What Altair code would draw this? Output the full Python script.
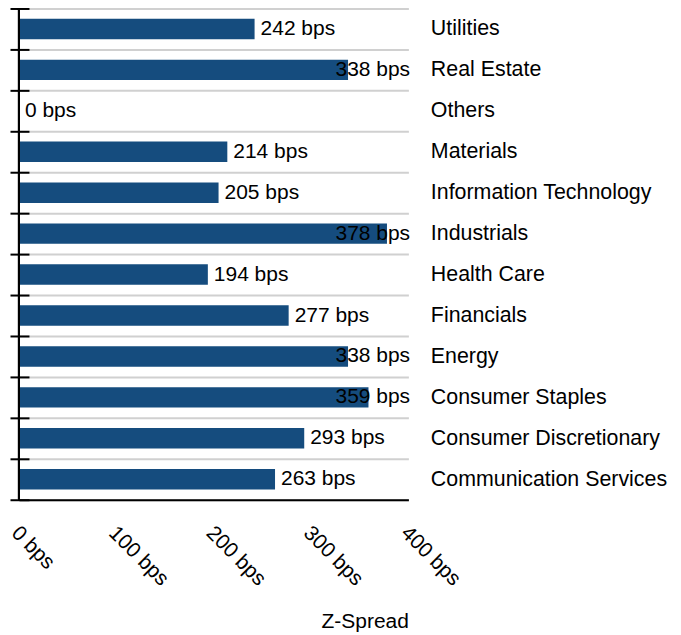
import altair as alt
import pandas as pd

sectors = ["Utilities", "Real Estate", "Others", "Materials", "Information Technology",
           "Industrials", "Health Care", "Financials", "Energy", "Consumer Staples",
           "Consumer Discretionary", "Communication Services"]
spreads = [242, 338, 0, 214, 205, 378, 194, 277, 338, 359, 293, 263]
x_ticks = [0, 100, 200, 300, 400]

df = pd.DataFrame({"sector": sectors, "spread": spreads})
FONT = "Liberation Sans"
BAR = "#154c7e"

y_scale = alt.Scale(domain=sectors, paddingInner=0, paddingOuter=0)
x_scale = alt.Scale(domain=[0, 400], nice=False)

x_axis = alt.Axis(values=x_ticks, labelExpr="datum.value + ' bps'", labelAngle=45,
                  labelAlign="left", labelBaseline="top", labelOffset=3,
                  labelFontSize=21, labelFont=FONT, labelColor="black",
                  ticks=False, tickSize=0,
                  grid=False, domainColor="black", domainWidth=2, labelPadding=22,
                  title="Z-Spread", titleAnchor="end", titleFont=FONT, titleFontSize=21,
                  titleFontWeight="normal", titleColor="black", titlePadding=21)

base = alt.Chart(df)

bars = base.mark_bar(color=BAR, height={"band": 0.5}).encode(
    x=alt.X("spread:Q", scale=x_scale, axis=x_axis, title="Z-Spread"),
    y=alt.Y("sector:N", scale=y_scale, sort=sectors,
            axis=alt.Axis(orient="right", ticks=False, tickSize=0, domain=False,
                          labelPadding=22, labelFontSize=21.4, labelFont=FONT,
                          labelColor="black", labelLimit=400, grid=True,
                          gridColor="#d0d0d0", gridWidth=2, tickBand="extent",
                          title=None)),
)

labels = base.transform_calculate(
    lx="min(datum.spread, 319)", label="datum.spread + ' bps'"
).mark_text(
    align="left", baseline="middle", dx=6, fontSize=21, font=FONT, color="black"
).encode(
    x=alt.X("lx:Q", scale=x_scale, axis=x_axis, title="Z-Spread"),
    # ticks crossing the left edge: axis moved 10px inside, ticks 19px long
    y=alt.Y("sector:N", scale=y_scale, sort=sectors,
            axis=alt.Axis(orient="left", offset=-10, tickSize=19, ticks=True,
                          tickColor="black", tickWidth=2, domain=False, labels=False,
                          grid=False, tickBand="extent", title=None)),
    text=alt.Text("label:N"),
)

left_line = base.mark_rule(color="black", strokeWidth=2).encode(
    x=alt.value(0)
)

chart = alt.layer(bars, labels, left_line).resolve_axis(y="independent").properties(
    width=390, height=492,
    autosize=alt.AutoSizeParams(type="none"),
    padding={"left": 11, "top": 0, "right": 265, "bottom": 135},
).configure_view(stroke=None)

chart.save("out.html", embed_options={"renderer": "svg", "actions": False})
